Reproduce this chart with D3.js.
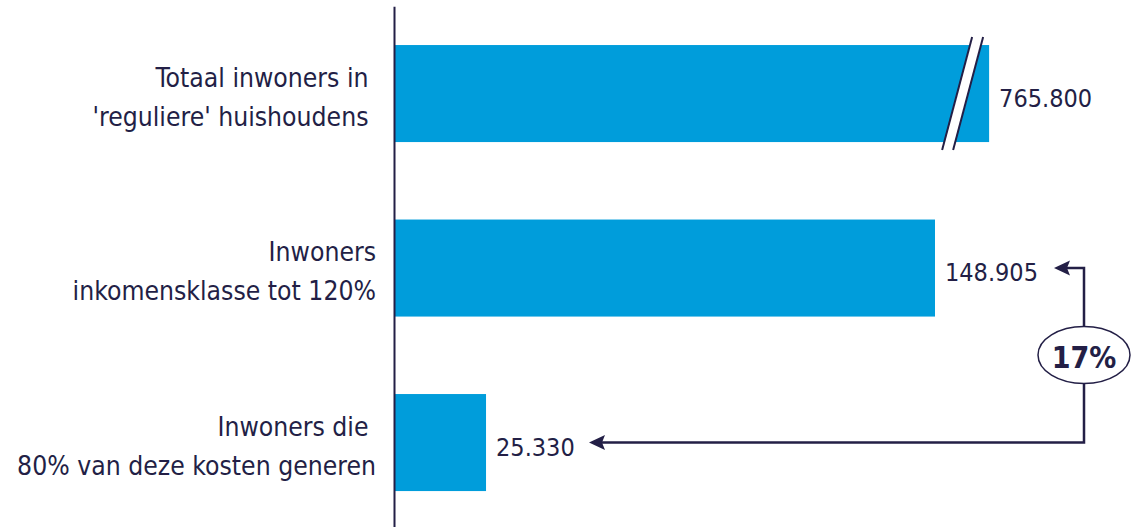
<!DOCTYPE html>
<html>
<head>
<meta charset="utf-8">
<script src="https://cdn.jsdelivr.net/npm/d3@7"></script>
<style>
  body { margin: 0; background: #fff; }
  text { font-family: 'DejaVu Sans Condensed', 'DejaVu Sans', sans-serif; fill: #231f46; }
</style>
</head>
<body>
<div id="chart"></div>
<script>
// categories (two lines per label) and values
const categories = ["totaal", "inkomen", "kosten"];
const labelLines = [
  ["Totaal inwoners in ", "'reguliere' huishoudens "],
  ["Inwoners", "inkomensklasse tot 120%"],
  ["Inwoners die ", "80% van deze kosten generen"]
];
const values = [765800, 148905, 25330];
const valueLabels = ["765.800", "148.905", "25.330"];

const width = 1142;
const height = 527;
const navy = "#231f46";
const blue = "#009ddb";

// first bar is cut off at this value (axis break)
const breakValue = 163800;

const svg = d3.select('#chart')
  .append('svg')
  .attr('width', width)
  .attr('height', height);

const x = d3.scaleLinear()
  .domain([0, values[1]])
  .range([394, 935]);

const y = d3.scaleBand()
  .domain(categories)
  .range([6.3, 529.8])
  .paddingInner(0.444)
  .paddingOuter(0.222);

const shown = v => Math.min(v, breakValue);

// bars
svg.selectAll('.bar')
  .data(values)
  .enter()
  .append('rect')
  .attr('class', 'bar')
  .attr('x', x(0))
  .attr('y', (d, i) => y(categories[i]))
  .attr('width', d => x(shown(d)) - x(0))
  .attr('height', y.bandwidth())
  .attr('fill', blue);

// axis break marks on the cut bar
values.forEach((v, i) => {
  if (v <= breakValue) return;
  const xe = x(breakValue);
  const top = y(categories[i]) - 8;
  const bot = y(categories[i]) + y.bandwidth() + 8;
  const shift = 30;
  svg.append('path')
    .attr('d', `M${xe - 17},${top} L${xe - 6},${top} L${xe - 6 - shift},${bot} L${xe - 17 - shift},${bot} Z`)
    .attr('fill', '#fff');
  [-17, -6].forEach(o => {
    svg.append('line')
      .attr('x1', xe + o).attr('y1', top)
      .attr('x2', xe + o - shift).attr('y2', bot)
      .attr('stroke', navy)
      .attr('stroke-width', 2);
  });
});

// axis line
svg.append('g')
  .attr('transform', `translate(${x(0)},0)`)
  .call(d3.axisLeft(y).tickSize(0).tickFormat(''))
  .call(g => g.select('.domain').attr('stroke', navy).attr('stroke-width', 2));

// category labels
const labels = svg.selectAll('.label')
  .data(labelLines)
  .enter()
  .append('text')
  .attr('class', 'label')
  .attr('text-anchor', 'end')
  .style('font-size', '26.3px')
  .style('white-space', 'pre');

labels.selectAll('tspan')
  .data((d, i) => d.map((t, j) => ({ t, j, i })))
  .enter()
  .append('tspan')
  .attr('x', 376)
  .attr('y', d => y(categories[d.i]) + y.bandwidth() / 2 + (d.j === 0 ? -7 : 32))
  .text(d => d.t);

// value labels
svg.selectAll('.value')
  .data(values)
  .enter()
  .append('text')
  .attr('class', 'value')
  .attr('x', d => x(shown(d)) + 10)
  .attr('y', (d, i) => y(categories[i]) + y.bandwidth() / 2 + 13)
  .style('font-size', '25px')
  .text((d, i) => valueLabels[i]);

// arrow connector between bar 2 and bar 3
const ax = 1084;
const yTop = y(categories[1]) + y.bandwidth() / 2;
const yBot = y(categories[2]) + y.bandwidth() / 2;
const tipTop = 1054;
const tipBot = 589;
svg.append('path')
  .attr('d', `M${tipTop + 12},${yTop} H${ax} V${yBot} H${tipBot + 12}`)
  .attr('fill', 'none')
  .attr('stroke', navy)
  .attr('stroke-width', 2.5);

const head = (tx, ty) => `M${tx},${ty} L${tx + 16},${ty - 7.5} L${tx + 13},${ty} L${tx + 16},${ty + 7.5} Z`;
svg.append('path').attr('d', head(tipTop, yTop)).attr('fill', navy);
svg.append('path').attr('d', head(tipBot, yBot)).attr('fill', navy);

const cy = 355;
svg.append('ellipse')
  .attr('cx', ax).attr('cy', cy)
  .attr('rx', 46).attr('ry', 28.5)
  .attr('fill', '#fff')
  .attr('stroke', navy)
  .attr('stroke-width', 1.5);

svg.append('text')
  .attr('x', ax).attr('y', cy + 13)
  .attr('text-anchor', 'middle')
  .style('font-size', '30px')
  .style('font-weight', 'bold')
  .text(d3.format('.0%')(values[2] / values[1]));
</script>
</body>
</html>
